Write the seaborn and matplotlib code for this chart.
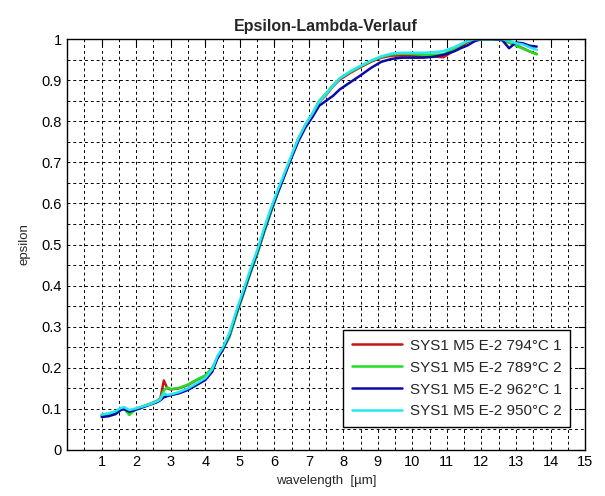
import pandas as pd
import matplotlib
matplotlib.use("Agg")
import matplotlib.pyplot as plt
import seaborn as sns
from matplotlib.ticker import MultipleLocator, FormatStrFormatter

# wavelength grid [um]
wavelength = [1.0, 1.2, 1.4, 1.55, 1.65, 1.8, 2.0, 2.2, 2.4, 2.6, 2.7, 2.8, 2.9, 3.0,
              3.25, 3.5, 3.75, 4.0, 4.2, 4.35, 4.5, 4.7, 4.9, 5.1, 5.3, 5.5, 5.7, 5.9,
              6.1, 6.3, 6.5, 6.7, 6.9, 7.1, 7.3, 7.5, 7.7, 7.9, 8.2, 8.5, 8.8, 9.1,
              9.4, 9.7, 10.0, 10.3, 10.6, 10.9, 11.2, 11.4, 11.6, 11.8, 12.0, 12.3,
              12.6, 12.8, 13.0, 13.2, 13.4, 13.6]

labels = ["SYS1 M5 E-2 794°C 1", "SYS1 M5 E-2 789°C 2",
          "SYS1 M5 E-2 962°C 1", "SYS1 M5 E-2 950°C 2"]
colors = ["#c81414", "#22dd22", "#0a0aa5", "#22e8f2"]

eps_794_1 = [0.084, 0.087, 0.091, 0.099, 0.101, 0.090, 0.100, 0.106, 0.112, 0.119, 0.125, 0.169, 0.150, 0.147,
             0.150, 0.158, 0.170, 0.180, 0.198, 0.224, 0.243, 0.276, 0.330, 0.380, 0.430, 0.477, 0.530, 0.580,
             0.626, 0.670, 0.714, 0.757, 0.790, 0.815, 0.847, 0.864, 0.885, 0.902, 0.918, 0.932, 0.945, 0.955,
             0.960, 0.960, 0.960, 0.958, 0.958, 0.956, 0.972, 0.982, 0.993, 1.000, 1.000, 1.000,
             0.998, 0.992, 0.985, 0.978, 0.970, 0.964]
eps_789_2 = [0.084, 0.087, 0.091, 0.099, 0.101, 0.085, 0.100, 0.106, 0.112, 0.119, 0.125, 0.145, 0.152, 0.148,
             0.151, 0.159, 0.171, 0.181, 0.199, 0.224, 0.243, 0.275, 0.328, 0.378, 0.428, 0.475, 0.528, 0.578,
             0.625, 0.670, 0.714, 0.758, 0.792, 0.818, 0.850, 0.868, 0.888, 0.905, 0.920, 0.934, 0.947, 0.957,
             0.963, 0.965, 0.964, 0.962, 0.962, 0.963, 0.976, 0.986, 0.995, 1.000, 1.000, 1.000,
             0.998, 0.992, 0.984, 0.977, 0.970, 0.963]
eps_962_1 = [0.080, 0.082, 0.087, 0.097, 0.099, 0.093, 0.098, 0.104, 0.110, 0.116, 0.121, 0.128, 0.131, 0.133,
             0.138, 0.146, 0.158, 0.170, 0.190, 0.222, 0.243, 0.280, 0.333, 0.382, 0.432, 0.480, 0.532, 0.582,
             0.627, 0.669, 0.712, 0.752, 0.785, 0.810, 0.838, 0.850, 0.862, 0.878, 0.895, 0.912, 0.930, 0.945,
             0.952, 0.955, 0.955, 0.955, 0.957, 0.962, 0.970, 0.978, 0.985, 0.995, 1.000, 1.000,
             0.998, 0.978, 0.992, 0.990, 0.984, 0.982]
eps_950_2 = [0.086, 0.089, 0.094, 0.102, 0.104, 0.097, 0.101, 0.106, 0.111, 0.118, 0.123, 0.138, 0.134, 0.135,
             0.141, 0.150, 0.162, 0.175, 0.196, 0.228, 0.248, 0.284, 0.338, 0.388, 0.438, 0.485, 0.538, 0.588,
             0.633, 0.675, 0.718, 0.759, 0.792, 0.818, 0.848, 0.866, 0.886, 0.905, 0.922, 0.935, 0.948, 0.958,
             0.965, 0.967, 0.967, 0.967, 0.968, 0.971, 0.980, 0.988, 0.996, 1.000, 1.000, 1.000,
             1.000, 0.996, 0.990, 0.987, 0.980, 0.974]

series = [eps_794_1, eps_789_2, eps_962_1, eps_950_2]

#Build long-form table
frames = []
for lab, vals in zip(labels, series):
    frames.append(pd.DataFrame({"wavelength": wavelength, "epsilon": vals, "probe": lab}))
df = pd.concat(frames, ignore_index=True)

sns.set_style("white")
plt.rcParams["font.family"] = ["Liberation Sans", "DejaVu Sans"]

fig = plt.figure(figsize=(6.05, 4.96), dpi=100)
ax = fig.add_axes([0.111, 0.093, 0.856, 0.828])

sns.lineplot(data=df, x="wavelength", y="epsilon", hue="probe", hue_order=labels,
             palette=colors, estimator=None, sort=False, linewidth=1.8, ax=ax)

ax.set_xlim(0, 15)
ax.set_ylim(0, 1)
ax.set_xticks(range(1, 16))
ax.yaxis.set_major_locator(MultipleLocator(0.1))
ax.yaxis.set_major_formatter(FormatStrFormatter("%g"))
ax.xaxis.set_minor_locator(MultipleLocator(0.5))
ax.yaxis.set_minor_locator(MultipleLocator(0.05))
ax.grid(which="both", color="black", linestyle=(0, (3, 3)), linewidth=0.7)
ax.set_axisbelow(True)
ax.tick_params(which="major", direction="in", length=5, width=0.8, top=True, right=True,
               labelsize=10.5, colors="black", pad=4)
ax.tick_params(which="minor", length=0)
for sp in ax.spines.values():
    sp.set_color("black")
    sp.set_linewidth(1.0)

ax.set_xlabel("wavelength  [µm]", fontsize=9.5)
ax.set_ylabel("epsilon", fontsize=9.5, labelpad=8)
ax.set_title("Epsilon-Lambda-Verlauf", fontsize=11.5, fontweight="bold", pad=6)

handles, _ = ax.get_legend_handles_labels()
leg = ax.legend(handles=handles, labels=labels, loc="lower right",
                bbox_to_anchor=(0.971, 0.056), borderaxespad=0, fontsize=11,
                handlelength=3.3, fancybox=False, framealpha=1, edgecolor="black",
                labelspacing=0.52, borderpad=0.55, handletextpad=0.5)
leg.get_frame().set_linewidth(1.0)

fig.savefig("out.png", dpi=100)
